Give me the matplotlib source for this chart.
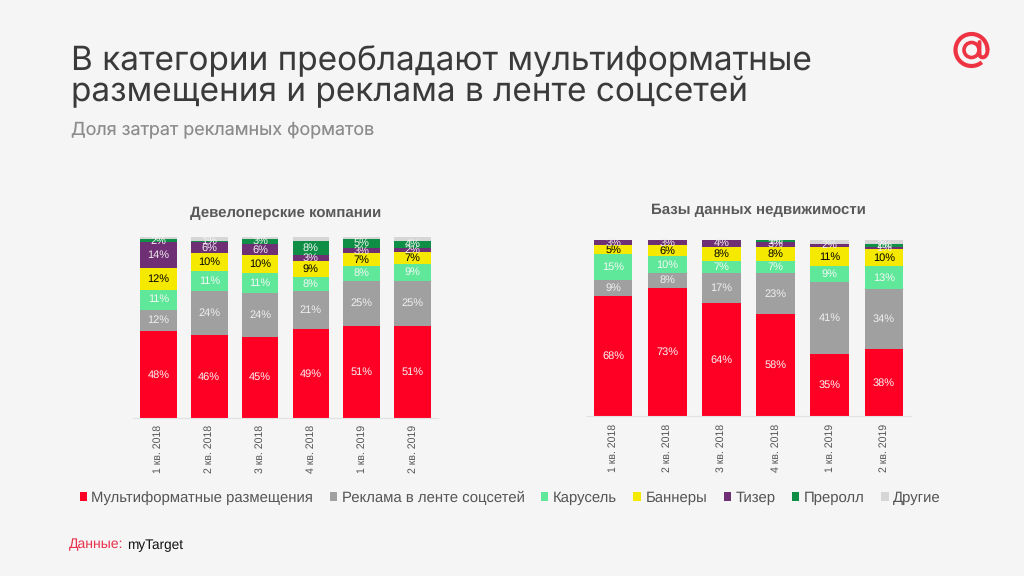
import matplotlib
matplotlib.use("Agg")
import matplotlib.pyplot as plt
from matplotlib.patches import Patch, Arc, Circle
from matplotlib.path import Path
from matplotlib.patches import PathPatch

W, H = 1024, 576
quarters = ["1 кв. 2018", "2 кв. 2018", "3 кв. 2018", "4 кв. 2018", "1 кв. 2019", "2 кв. 2019"]
series_names = ["Мультиформатные размещения", "Реклама в ленте соцсетей", "Карусель", "Баннеры", "Тизер", "Преролл", "Другие"]
colors = ["#ff0025", "#a0a0a0", "#5fe89a", "#f5e900", "#6e2f74", "#0e8f45", "#d6d6d6"]
label_colors = ["#f6f6f6", "#f0f0f0", "#f6f6f6", "black", "#eeeeee", "#f6f6f6", "#f6f6f6"]

dev_multi = [48, 46, 45, 49, 51, 51]
dev_feed = [12, 24, 24, 21, 25, 25]
dev_carousel = [11, 11, 11, 8, 8, 9]
dev_banner = [12, 10, 10, 9, 7, 7]
dev_teaser = [14, 6, 6, 3, 3, 2]
dev_preroll = [2, 1, 3, 8, 5, 4]
dev_other = [1, 2, 1, 2, 1, 2]

db_multi = [68, 73, 64, 58, 35, 38]
db_feed = [9, 8, 17, 23, 41, 34]
db_carousel = [15, 10, 7, 7, 9, 13]
db_banner = [5, 6, 8, 8, 11, 10]
db_teaser = [3, 3, 4, 3, 2, 1]
db_preroll = [0, 0, 0, 1, 0, 2]
db_other = [0, 0, 0, 0, 2, 2]

dev_series = [dev_multi, dev_feed, dev_carousel, dev_banner, dev_teaser, dev_preroll, dev_other]
db_series = [db_multi, db_feed, db_carousel, db_banner, db_teaser, db_preroll, db_other]

plt.rcParams["font.family"] = ["Liberation Sans", "DejaVu Sans"]
plt.rcParams["text.hinting"] = "no_hinting"
fig = plt.figure(figsize=(W / 100, H / 100), dpi=100, facecolor="#f5f5f5")


def px_axes(x0, x1, ytop, ybot):
    return fig.add_axes([x0 / W, 1 - ybot / H, (x1 - x0) / W, (ybot - ytop) / H])


def stacked(ax, data, title, title_x, title_y, width, pad):
    ax.set_facecolor("none")
    xs = range(len(quarters))
    bottom = [0] * len(quarters)
    for vals, c, lc in zip(data, colors, label_colors):
        ax.bar(xs, vals, width, bottom=bottom, color=c, linewidth=0)
        if c != colors[-1]:
            for x, v, b in zip(xs, vals, bottom):
                if v > 0:
                    ax.text(x, b + v / 2, f"{v}%", ha="center", va="center",
                            color=lc, fontsize=7.9, clip_on=False)
        bottom = [b + v for b, v in zip(bottom, vals)]
    ax.set_xlim(-0.5, 5.5)
    ax.set_ylim(0, 100)
    ax.set_yticks([])
    ax.set_xticks(list(xs))
    ax.set_xticklabels(quarters, rotation=90, fontsize=7.6, color="#555555")
    ax.tick_params(axis="x", length=0, pad=pad)
    for s in ("top", "left", "right"):
        ax.spines[s].set_visible(False)
    ax.spines["bottom"].set_color("#e2e2e2")
    ax.spines["bottom"].set_linewidth(0.8)
    fig.text(title_x / W, 1 - title_y / H, title,
             ha="center", va="center", fontsize=10.8, fontweight="bold", color="#595959")


ax1 = px_axes(133, 438, 237, 418.3)
stacked(ax1, dev_series, "Девелоперские компании", 286, 213, 0.72, 4.5)
ax2 = px_axes(586, 911, 240, 416)
stacked(ax2, db_series, "Базы данных недвижимости", 758.5, 210, 0.715, 5.5)

fig.text(71 / W, 1 - 61 / H, "В категории преобладают мультиформатные", family="Inter",
         fontsize=24, color="#3a3a3a", va="center", ha="left")
fig.text(71 / W, 1 - 92 / H, "размещения и реклама в ленте соцсетей", family="Inter",
         fontsize=24, color="#3a3a3a", va="center", ha="left")
fig.text(71 / W, 1 - 130 / H, "Доля затрат рекламных форматов", family="Inter",
         fontsize=12.9, color="#8c8c8c", va="center", ha="left")

# logo drawn in pixel coordinates
logo = fig.add_axes([0, 0, 1, 1], facecolor="none")
logo.set_xlim(0, W)
logo.set_ylim(H, 0)
logo.axis("off")
cx, cy = 971.5, 50
red = "#ee3342"
logo.add_patch(Arc((cx, cy), 32, 32, theta1=50, theta2=360, color=red, lw=3.0))
logo.add_patch(Circle((cx, cy), 7.5, fill=False, edgecolor=red, lw=2.6))
tail = Path([(cx + 8, cy - 8), (cx + 8, cy + 4), (cx + 8, cy + 9), (cx + 16, cy + 9), (cx + 16, cy)],
            [Path.MOVETO, Path.LINETO, Path.CURVE4, Path.CURVE4, Path.CURVE4])
logo.add_patch(PathPatch(tail, fill=False, edgecolor=red, lw=2.8, capstyle="round"))

handles = [Patch(facecolor=c, edgecolor="none") for c in colors]
fig.legend(handles, series_names, ncol=7, loc="center left",
           bbox_to_anchor=(79.5 / W, 1 - 498 / H), frameon=False, fontsize=10.75,
           labelcolor="#555555", handlelength=0.5, handleheight=0.5,
           handletextpad=0.3, columnspacing=1.1, borderpad=0, borderaxespad=0)

fig.text(69 / W, 1 - 545 / H, "Данные:", fontsize=10.1, color="#e8304a", va="center", ha="left")
fig.text(127 / W, 1 - 545 / H, "myTarget", fontsize=9.8, color="#111111", va="center", ha="left")

fig.savefig("out.png", dpi=100, facecolor=fig.get_facecolor())
